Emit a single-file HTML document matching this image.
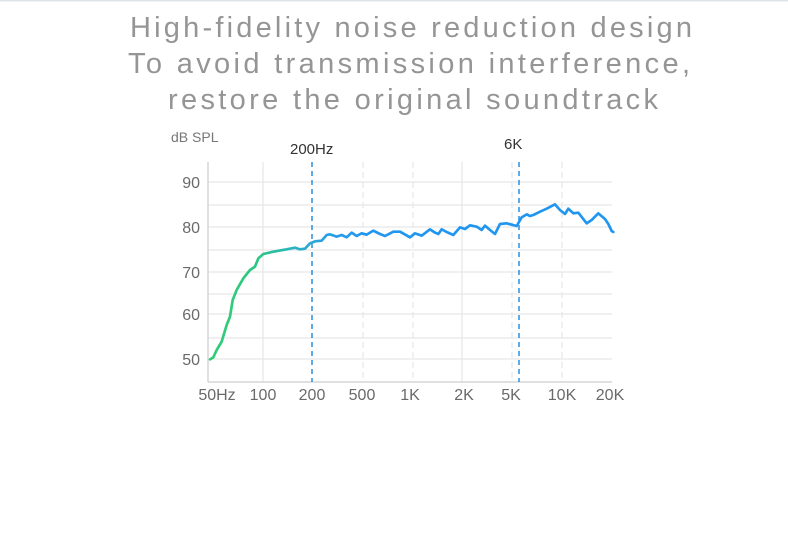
<!DOCTYPE html>
<html><head><meta charset="utf-8"><style>
html,body{margin:0;padding:0;background:#fff;}
svg{display:block;}
</style></head><body>
<svg width="788" height="534" viewBox="0 0 788 534" xmlns="http://www.w3.org/2000/svg">
<defs>
<linearGradient id="g" x1="208" y1="0" x2="612" y2="0" gradientUnits="userSpaceOnUse">
<stop offset="0" stop-color="#2fcc78"/>
<stop offset="0.22" stop-color="#2cc685"/>
<stop offset="0.45" stop-color="#2ab5bd"/>
<stop offset="0.7" stop-color="#2aa0e6"/>
<stop offset="1" stop-color="#2196f0"/>
</linearGradient>
</defs>
<rect x="0" y="0" width="788" height="1.5" fill="#dde4e8"/>
<g font-family="Liberation Sans, sans-serif" fill="#959595" font-size="29" text-anchor="middle">
<text x="411" y="37" textLength="562" lengthAdjust="spacing">High-fidelity noise reduction design</text>
<text x="409" y="73" textLength="562" lengthAdjust="spacing">To avoid transmission interference,</text>
<text x="413" y="109" textLength="490" lengthAdjust="spacing">restore the original soundtrack</text>
</g>
<g stroke="#e6e6e6" stroke-width="1.2">
<line x1="208" y1="182" x2="612" y2="182"/>
<line x1="208" y1="205" x2="612" y2="205"/>
<line x1="208" y1="227" x2="612" y2="227"/>
<line x1="208" y1="250" x2="612" y2="250"/>
<line x1="208" y1="272" x2="612" y2="272"/>
<line x1="208" y1="294" x2="612" y2="294"/>
<line x1="208" y1="314" x2="612" y2="314"/>
<line x1="208" y1="338" x2="612" y2="338"/>
<line x1="208" y1="359" x2="612" y2="359"/>
<line x1="263" y1="162" x2="263" y2="382"/>
<line x1="462" y1="162" x2="462" y2="382"/>
</g>
<g stroke="#e6e6e6" stroke-width="1.2" stroke-dasharray="6,4">
<line x1="363" y1="162" x2="363" y2="382"/>
<line x1="413" y1="162" x2="413" y2="382"/>
<line x1="512" y1="162" x2="512" y2="382"/>
<line x1="562" y1="162" x2="562" y2="382"/>
</g>
<line x1="208" y1="162" x2="208" y2="382" stroke="#d6d6d6" stroke-width="1.5"/>
<line x1="208" y1="382" x2="612" y2="382" stroke="#d6d6d6" stroke-width="1.5"/>
<g stroke="#2a8fe0" stroke-width="1.5" stroke-dasharray="5,4">
<line x1="312" y1="162" x2="312" y2="382"/>
<line x1="519" y1="162" x2="519" y2="382"/>
</g>
<g transform="translate(160,120) scale(0.33333)">
<polyline fill="none" stroke="url(#g)" stroke-width="8" stroke-linejoin="round" stroke-linecap="round" points="150,718 160,712 170,690 185,665 200,615 210,590 218,540 230,510 250,475 270,450 285,440 295,415 310,402 340,395 380,388 405,383 420,388 435,386 450,370 465,364 485,362 500,345 510,343 530,350 545,345 560,352 575,338 590,348 605,340 620,344 640,332 660,342 675,348 700,335 720,335 750,352 765,340 785,347 810,328 825,338 835,342 845,328 860,336 880,345 900,322 915,327 930,316 950,320 965,330 975,317 990,330 1005,342 1020,312 1040,310 1070,318 1085,292 1100,283 1110,288 1120,285 1140,275 1160,266 1185,253 1200,270 1215,282 1225,266 1240,280 1255,278 1280,310 1295,300 1315,280 1335,297 1345,312 1355,333 1360,336"/>
</g>
<g font-family="Liberation Sans, sans-serif" font-size="15" fill="#6a6a6a">
<text x="171" y="142" font-size="14" fill="#777">dB SPL</text>
<text x="290" y="154" fill="#333">200Hz</text>
<text x="504" y="149" fill="#333">6K</text>
<g text-anchor="end" font-size="16">
<text x="200" y="188">90</text>
<text x="200" y="233">80</text>
<text x="200" y="278">70</text>
<text x="200" y="320">60</text>
<text x="200" y="365">50</text>
</g>
<g text-anchor="middle" font-size="16">
<text x="217" y="400">50Hz</text>
<text x="263" y="400">100</text>
<text x="312" y="400">200</text>
<text x="362" y="400">500</text>
<text x="410" y="400">1K</text>
<text x="464" y="400">2K</text>
<text x="511" y="400">5K</text>
<text x="562" y="400">10K</text>
<text x="610" y="400">20K</text>
</g>
</g>
</svg>
</body></html>
